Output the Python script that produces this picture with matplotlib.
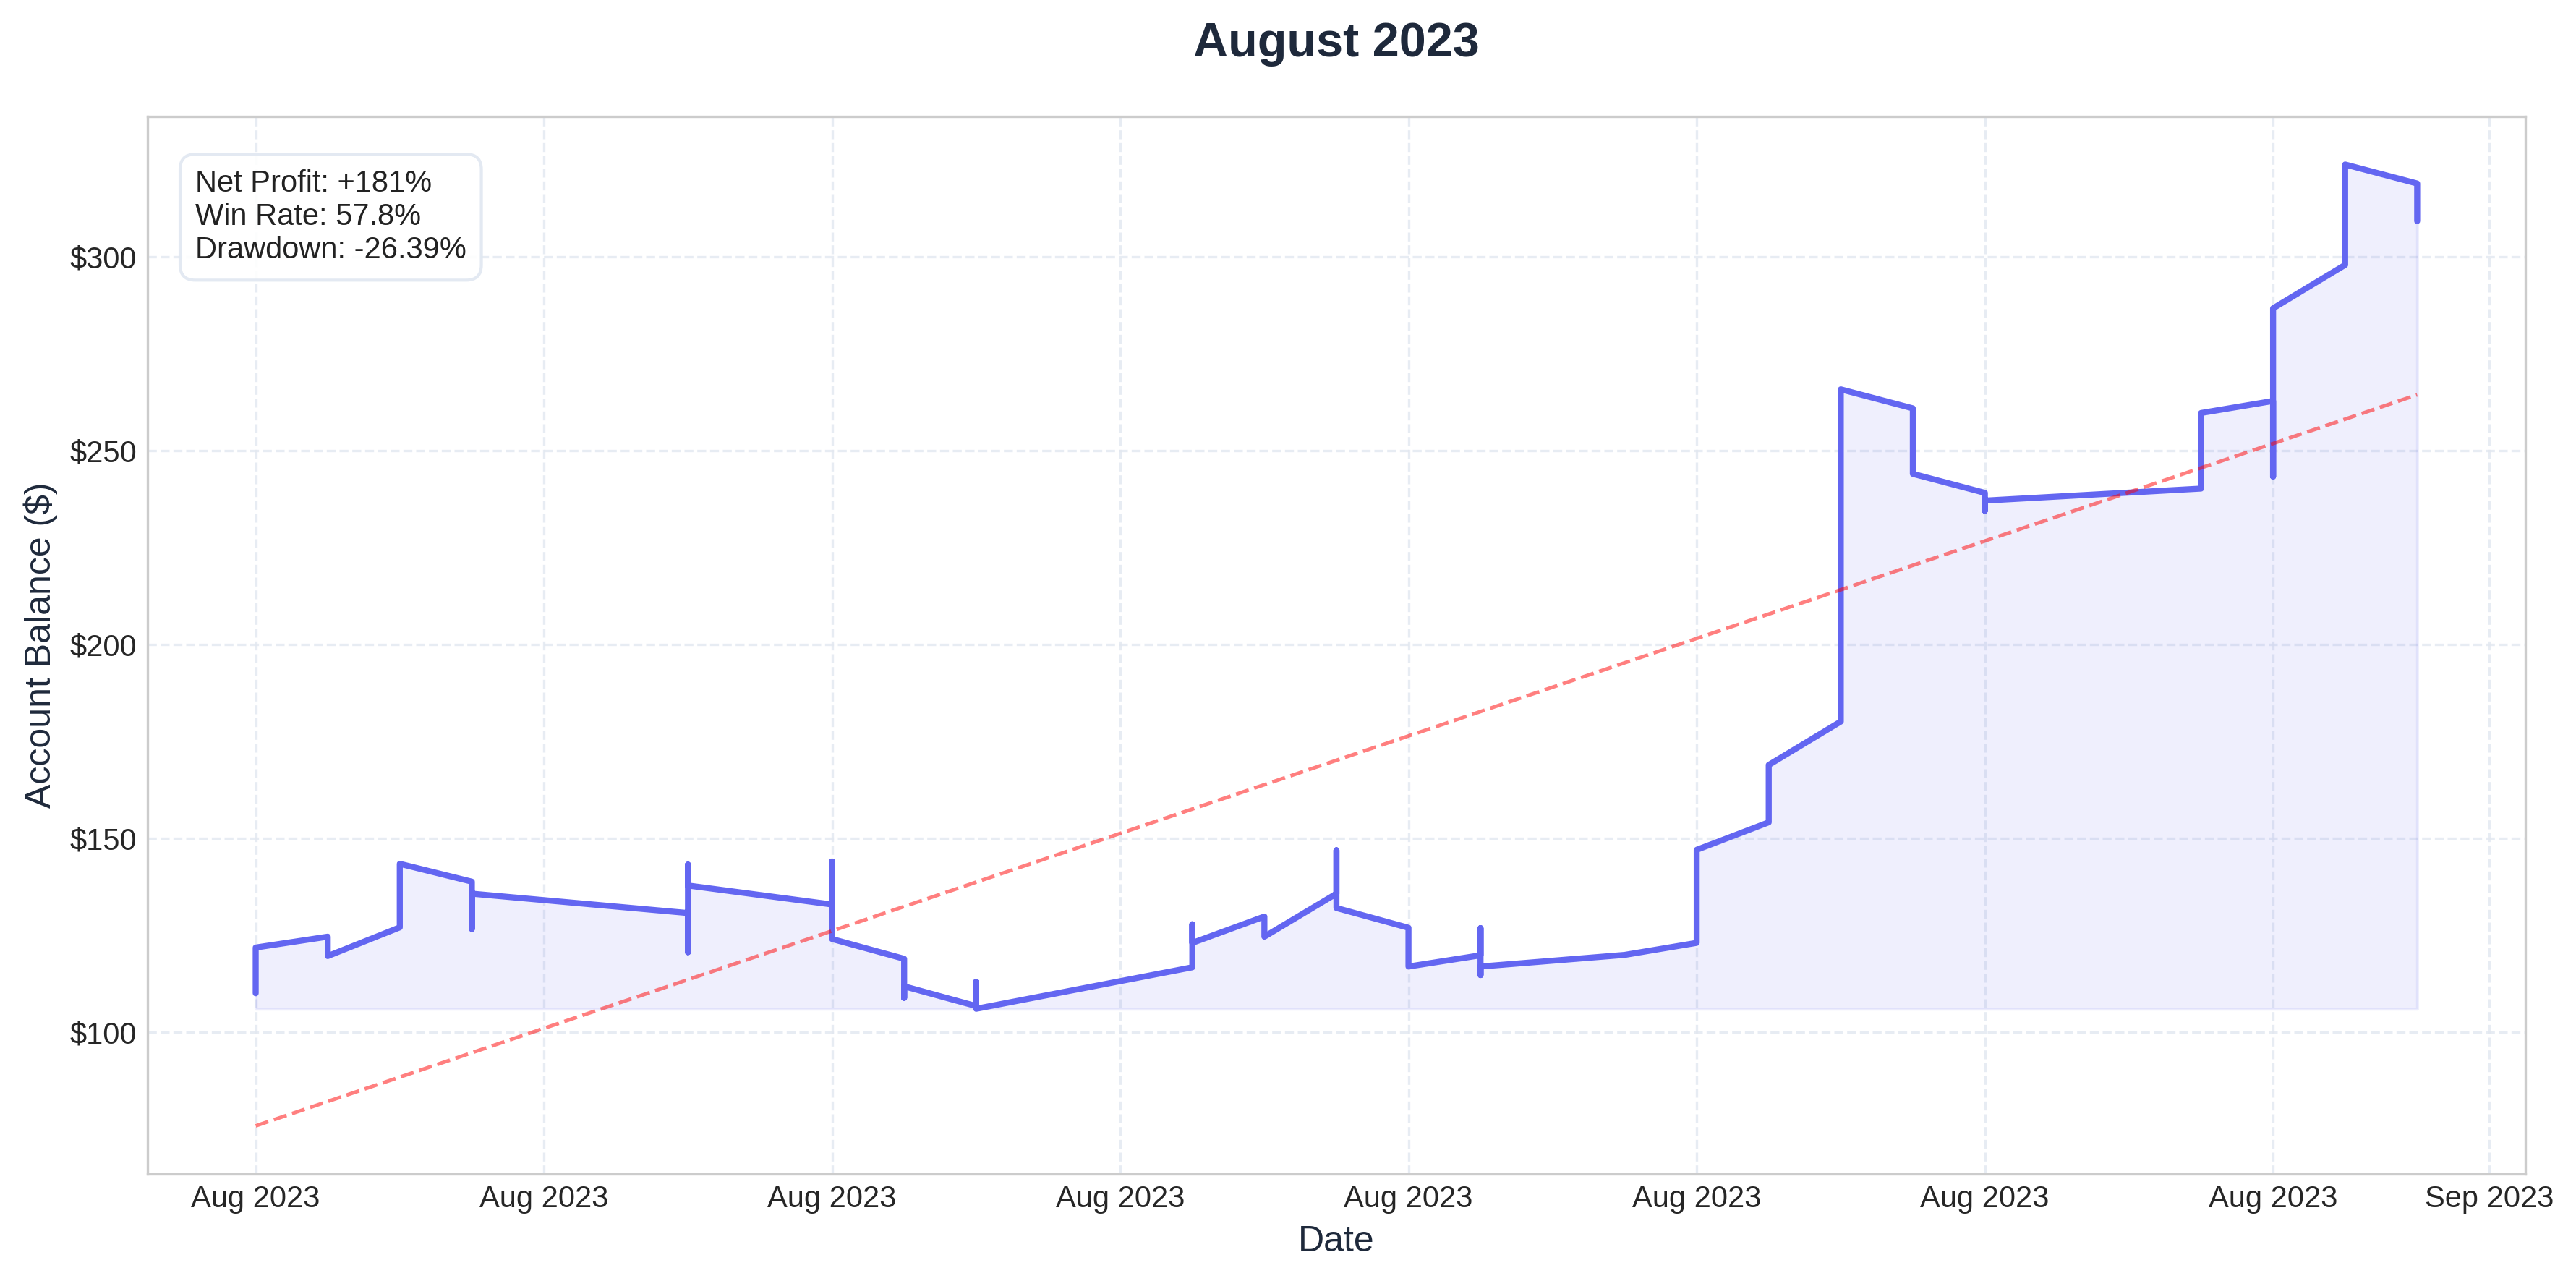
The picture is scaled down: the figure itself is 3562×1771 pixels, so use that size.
import numpy as np
import pandas as pd
import matplotlib
matplotlib.use("Agg")
import matplotlib.pyplot as plt
import matplotlib.dates as mdates
from matplotlib.ticker import FuncFormatter
import seaborn as sns

# trades, one row per closed trade (several per day share a date)
trade_days = (
    ["2023-08-01"] * 2 + ["2023-08-02"] * 2 + ["2023-08-03"] * 2 +
    ["2023-08-04"] * 3 + ["2023-08-07"] * 4 + ["2023-08-09"] * 3 +
    ["2023-08-10"] * 3 + ["2023-08-11"] * 3 + ["2023-08-14"] * 3 +
    ["2023-08-15"] * 2 + ["2023-08-16"] * 3 + ["2023-08-17"] * 2 +
    ["2023-08-18"] * 4 + ["2023-08-20"] * 1 + ["2023-08-21"] * 2 +
    ["2023-08-22"] * 2 + ["2023-08-23"] * 2 + ["2023-08-24"] * 2 +
    ["2023-08-25"] * 3 + ["2023-08-28"] * 2 + ["2023-08-29"] * 3 +
    ["2023-08-30"] * 3 + ["2023-08-31"] * 2
)
balance = [
    110.0, 121.8,
    124.6, 119.6,
    127.0, 143.4,
    138.8, 126.6, 135.7,
    130.7, 120.6, 143.2, 137.8,
    132.9, 144.0, 124.0,
    118.9, 108.8, 111.8,
    106.7, 113.0, 106.0,
    116.7, 127.8, 123.0,
    129.8, 124.6,
    135.7, 146.9, 132.0,
    126.9, 116.9,
    119.8, 126.8, 114.7, 116.9,
    119.9,
    123.0, 147.0,
    154.1, 168.9,
    180.1, 265.8,
    260.9, 244.0,
    239.1, 234.5, 237.1,
    240.2, 259.7,
    262.8, 243.3, 286.7,
    297.9, 316.0, 323.8,
    318.9, 309.2,
]
trend_start = 75.8
trend_end = 264.4

stats_text = "Net Profit: +181%\nWin Rate: 57.8%\nDrawdown: -26.39%"

dates = pd.to_datetime(trade_days)

sns.set_style("whitegrid")
plt.rcParams["font.family"] = ["Liberation Sans", "DejaVu Sans"]

fig, ax = plt.subplots(figsize=(3562 / 300, 1771 / 300), dpi=300)
fig.subplots_adjust(left=0.0573, right=0.9803, bottom=0.0836, top=0.9091)

ax.plot(dates, balance, color="#6366f1", lw=2)
ax.fill_between(dates, balance, min(balance), color="#6366f1", alpha=0.1)
ax.plot([dates[0], dates[-1]], [trend_start, trend_end], "--", color="red", alpha=0.5, lw=1.2)

ax.set_title("August 2023", fontsize=16, fontweight="bold", color="#1e293b", pad=20)
ax.set_xlabel("Date", fontsize=12, color="#1e293b")
ax.set_ylabel("Account Balance ($)", fontsize=12, color="#1e293b")

ax.xaxis.set_major_locator(mdates.DayLocator(bymonthday=range(1, 32, 4)))
ax.xaxis.set_major_formatter(mdates.DateFormatter("%b %Y"))
ax.yaxis.set_major_formatter(FuncFormatter(lambda v, p: f"${v:.0f}"))
ax.tick_params(labelsize=10, colors="#262626", length=0, pad=3.5)

ax.grid(True, linestyle="--", color="#e2e8f0", lw=0.8, alpha=0.8)
for s in ax.spines.values():
    s.set_color("#cccccc")
    s.set_linewidth(0.8)

ax.text(0.02, 0.95, stats_text, transform=ax.transAxes, fontsize=10, va="top",
        color="#222222",
        bbox=dict(boxstyle="round,pad=0.5", facecolor="white", alpha=0.9, edgecolor="#e0e7f1"))

plt.savefig("out.png", dpi=300)
